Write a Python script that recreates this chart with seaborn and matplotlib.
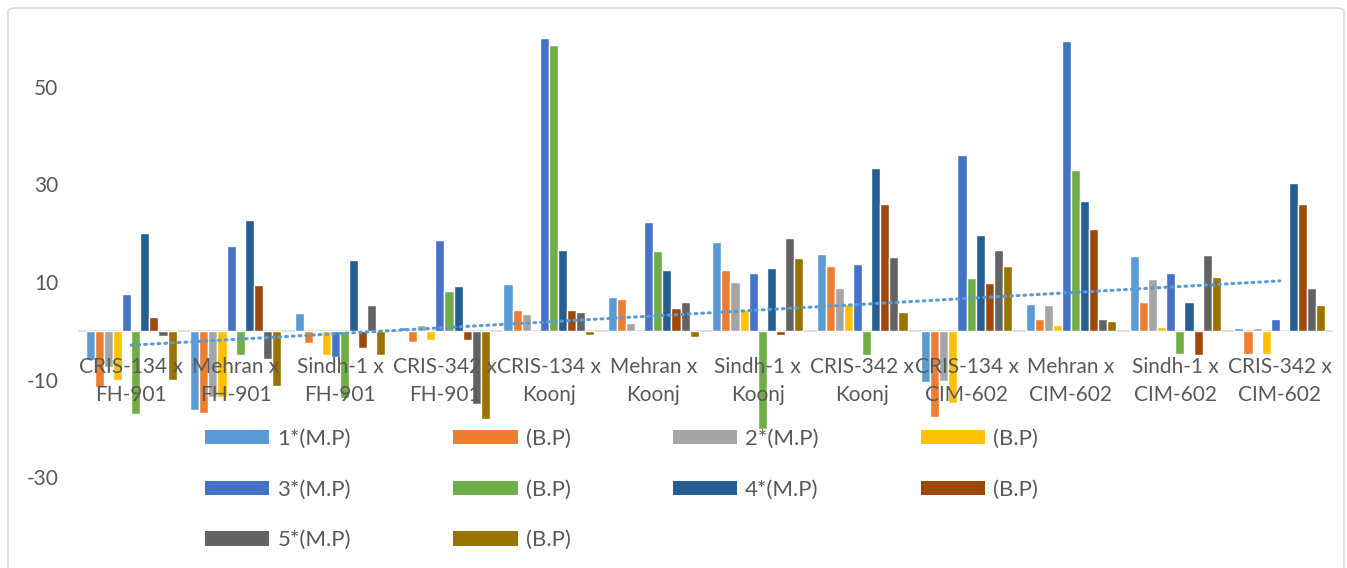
import matplotlib.pyplot as plt
import seaborn as sns
import pandas as pd
import numpy as np
from matplotlib.patches import FancyBboxPatch

crosses = ["CRIS-134 x\nFH-901", "Mehran x\nFH-901", "Sindh-1 x\nFH-901", "CRIS-342 x\nFH-901",
           "CRIS-134 x\nKoonj", "Mehran x\nKoonj", "Sindh-1 x\nKoonj", "CRIS-342 x\nKoonj",
           "CRIS-134 x\nCIM-602", "Mehran x\nCIM-602", "Sindh-1 x\nCIM-602", "CRIS-342 x\nCIM-602"]

mp1 = [-6.0, -16.2, 3.7, 0.7, 9.6, 7.0, 18.2, 15.8, -10.5, 5.5, 15.4, 0.5]
bp1 = [-11.5, -16.8, -2.5, -2.2, 4.3, 6.6, 12.4, 13.3, -17.7, 2.5, 6.0, -4.7]
mp2 = [-7.5, -13.5, 0.0, 1.2, 3.4, 1.7, 10.1, 8.8, -10.3, 5.2, 10.6, 0.5]
bp2 = [-10.1, -13.5, -5.0, -1.9, 0.0, 0.0, 4.2, 5.5, -14.8, 1.1, 0.7, -4.7]
mp3 = [7.5, 17.3, -5.3, 18.7, 59.9, 22.2, 11.8, 13.7, 36.1, 59.4, 11.8, 2.4]
bp3 = [-17.1, -5.0, -13.8, 8.2, 58.6, 16.4, -20.1, -5.0, 10.9, 32.9, -4.7, 0.0]
mp4 = [20.0, 22.8, 14.6, 9.2, 16.5, 12.4, 12.8, 33.4, 19.6, 26.7, 6.0, 30.3]
bp4 = [2.9, 9.3, -3.5, -1.9, 4.3, 4.7, -0.8, 25.9, 9.7, 20.9, -4.9, 25.9]
mp5 = [-1.1, -5.7, 5.3, -14.9, 3.8, 6.0, 19.0, 15.1, 16.5, 2.4, 15.5, 8.8]
bp5 = [-10.0, -11.4, -4.9, -18.0, -0.8, -1.3, 15.0, 3.8, 13.3, 2.1, 11.0, 5.2]

keys = ["1*(M.P)", "1 (B.P)", "2*(M.P)", "2 (B.P)", "3*(M.P)", "3 (B.P)",
        "4*(M.P)", "4 (B.P)", "5*(M.P)", "5 (B.P)"]
labels = ["1*(M.P)", "(B.P)", "2*(M.P)", "(B.P)", "3*(M.P)", "(B.P)",
          "4*(M.P)", "(B.P)", "5*(M.P)", "(B.P)"]
colors = ["#5B9BD5", "#ED7D31", "#A5A5A5", "#FFC000", "#4472C4",
          "#70AD47", "#255E91", "#9E480E", "#636363", "#997300"]

series = [mp1, bp1, mp2, bp2, mp3, bp3, mp4, bp4, mp5, bp5]
df = pd.DataFrame({
    "cross": np.tile(crosses, len(keys)),
    "series": np.repeat(keys, len(crosses)),
    "value": np.concatenate(series),
})

sns.set_style("white")
plt.rcParams["font.family"] = ["Lato", "DejaVu Sans"]
plt.rcParams["axes.unicode_minus"] = False
txt = "#595959"

fig = plt.figure(figsize=(13.47, 5.68), dpi=100)
ax = fig.add_axes([79 / 1347, 0, 1253 / 1347, 1 - 38 / 568])

sns.barplot(data=df, x="cross", y="value", hue="series", order=crosses, hue_order=keys,
            palette=colors, saturation=1, width=0.87, errorbar=None, legend=False,
            edgecolor="white", linewidth=1.0, ax=ax)

# linear trend of the first series
xi = np.arange(len(crosses))
coef = np.polyfit(xi, mp1, 1)
ax.plot(xi, np.polyval(coef, xi), color="#5B9BD5", lw=2.2, linestyle=(0, (0.6, 1.6)),
        dash_capstyle="round", zorder=5)

ax.set_xlim(-0.5, len(crosses) - 0.5)
ax.set_ylim(-48.6, 60)
ax.set_yticks([-30, -10, 10, 30, 50])
ax.set_xlabel("")
ax.set_ylabel("")
for s in ["top", "left", "right"]:
    ax.spines[s].set_visible(False)
ax.spines["bottom"].set_position(("data", 0))
ax.spines["bottom"].set_color("#D9D9D9")
ax.spines["bottom"].set_linewidth(1.2)
ax.spines["bottom"].set_zorder(0.5)
ax.tick_params(axis="x", length=0, pad=19, labelsize=15, labelcolor=txt)
ax.tick_params(axis="y", length=0, pad=15, labelsize=15, labelcolor=txt)
for lbl in ax.get_xticklabels():
    lbl.set_linespacing(1.5)
ax.xaxis.set_zorder(10)
ax.set_facecolor("none")

# legend in row-major order (4 columns)
handles = [plt.Rectangle((0, 0), 1, 1, facecolor=c, edgecolor="none") for c in colors]
order = [0, 4, 8, 1, 5, 9, 2, 6, 3, 7]
fig.legend([handles[i] for i in order], [labels[i] for i in order], ncol=4,
           loc="upper left", bbox_to_anchor=(205 / 1347, 1 - 429 / 568), frameon=False,
           fontsize=16, labelcolor=txt, handlelength=2.9, handleheight=0.6,
           handletextpad=0.36, columnspacing=4.6, labelspacing=1.38,
           borderpad=0, borderaxespad=0)

fig.patches.append(FancyBboxPatch((8 / 1347, -0.05), 1336 / 1347, 1.05 - 8 / 568,
                                  boxstyle="round,pad=0,rounding_size=0.006",
                                  transform=fig.transFigure, facecolor="none",
                                  edgecolor="#D9D9D9", linewidth=1.2))

fig.savefig("out.png", dpi=100)
